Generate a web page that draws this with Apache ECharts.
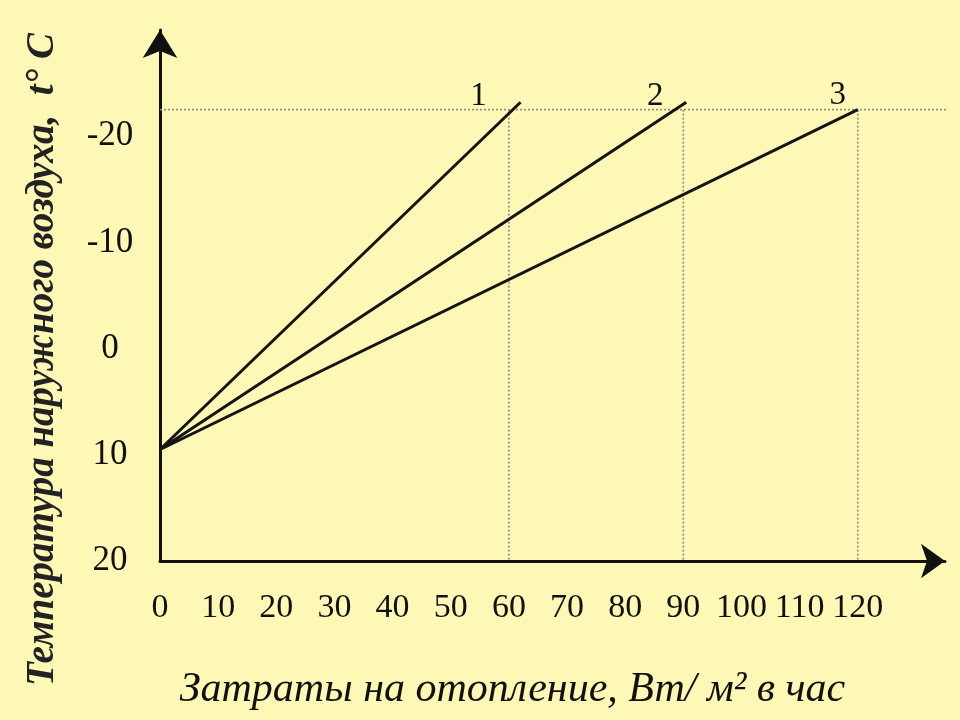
<!DOCTYPE html>
<html>
<head>
<meta charset="utf-8">
<script src="https://cdn.jsdelivr.net/npm/echarts@6/dist/echarts.min.js"></script>
<style>
html,body{margin:0;padding:0;background:#FDF8B6;}
#c{width:960px;height:720px;}
</style>
</head>
<body>
<div id="c"></div>
<script>
// Data
const xTicks = [0, 10, 20, 30, 40, 50, 60, 70, 80, 90, 100, 110, 120];
const yTicks = [-20, -10, 0, 10, 20];
const lineNames = ['1', '2', '3'];
const line1 = [[0, 9.5], [62, -23.2]];
const line2 = [[0, 9.5], [90.5, -23.2]];
const line3 = [[0, 9.5], [120, -22.5]];
const guideLevel = -22.5;
const guideX = [60, 90, 120];

const xTitle = 'Затраты на отопление, Вт/ м² в час';
const yTitle = 'Температура наружного воздуха,  t° C';

const chart = echarts.init(document.getElementById('c'));
const serif = 'Liberation Serif';

function mainLine(name, data, labelOffset) {
  return {
    type: 'line',
    name: name,
    showSymbol: true,
    data: data.map((p, i) => i === data.length - 1 ? {
      value: p,
      symbol: 'circle', symbolSize: 1,
      itemStyle: {color: 'rgba(0,0,0,0)'},
      label: {show: true, formatter: name, position: 'top', offset: labelOffset,
        fontFamily: serif, fontSize: 33, color: '#111'}
    } : {value: p, symbol: 'none'}),
    lineStyle: {color: '#141414', width: 3},
    emphasis: {disabled: true},
    z: 5
  };
}

const guideStyle = {color: '#8c8c80', width: 1.6, type: [2, 2]};
const guideSeries = [];
guideSeries.push({
  type: 'line', data: [[0, guideLevel], [138, guideLevel]], symbol: 'none', clip: false,
  lineStyle: guideStyle, z: 2
});
guideX.forEach(x => guideSeries.push({
  type: 'line', data: [[x, guideLevel], [x, 20]], symbol: 'none',
  lineStyle: guideStyle, z: 2
}));

chart.setOption({
  animation: false,
  backgroundColor: '#FDF8B6',
  grid: {left: 160, right: 15, top: 30, bottom: 159, containLabel: false},
  xAxis: {
    type: 'value', min: 0, max: 135, interval: 10,
    splitLine: {show: false},
    axisTick: {show: false},
    axisLine: {show: true, onZero: false, lineStyle: {color: '#111', width: 3}, symbol: ['none', 'arrow'], symbolSize: [26, 24]},
    axisLabel: {customValues: xTicks, margin: 30, fontFamily: serif, fontSize: 34, color: '#111'},
    name: xTitle, nameLocation: 'middle', nameGap: 108,
    nameTextStyle: {fontFamily: serif, fontStyle: 'italic', fontSize: 42, color: '#111', padding: [0, 80, 0, 0]}
  },
  yAxis: {
    type: 'value', min: -30, max: 20, interval: 10, inverse: true,
    splitLine: {show: false},
    axisTick: {show: false},
    axisLine: {show: true, onZero: false, lineStyle: {color: '#111', width: 3}, symbol: ['none', 'arrow'], symbolSize: [26, 28]},
    axisLabel: {customValues: yTicks, margin: 50, align: 'center', fontFamily: serif, fontSize: 35, color: '#111'},
    name: yTitle, nameLocation: 'middle', nameGap: 98, nameRotate: 90,
    nameTextStyle: {fontFamily: serif, fontStyle: 'italic', fontWeight: 'bold', fontSize: 39, color: '#222', padding: [0, 128, 0, 0]}
  },
  series: [
    mainLine(lineNames[0], line1, [-42, 16]),
    mainLine(lineNames[1], line2, [-31, 16]),
    mainLine(lineNames[2], line3, [-20, 8])
  ].concat(guideSeries)
});
</script>
</body>
</html>
